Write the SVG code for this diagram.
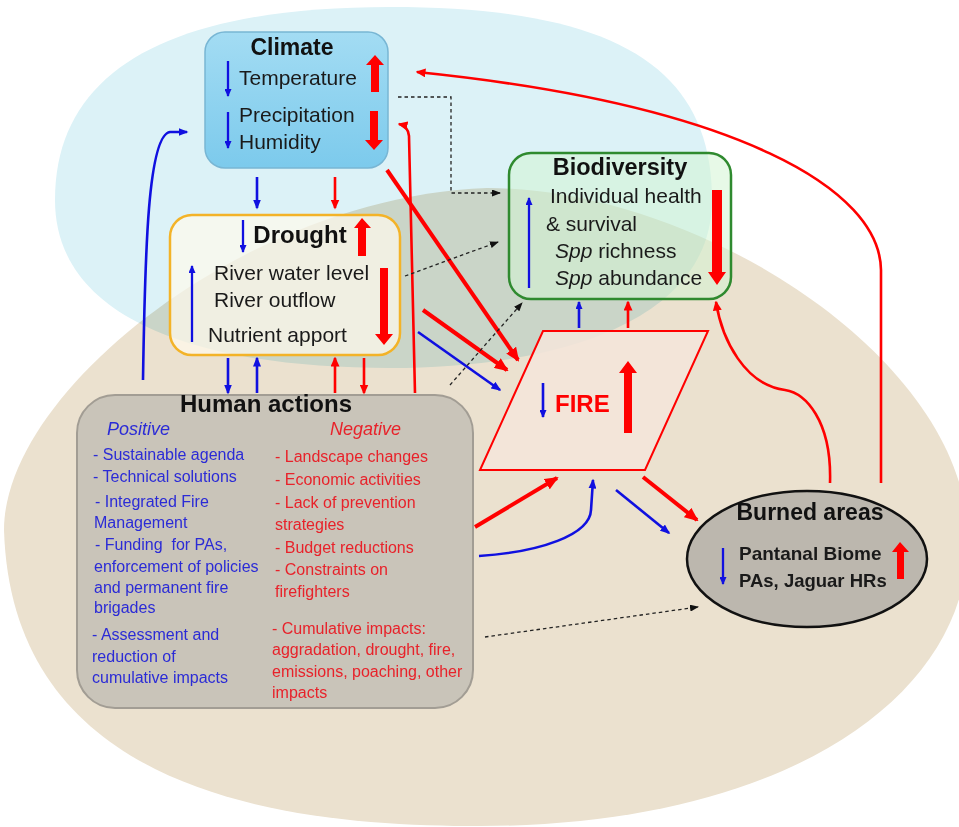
<svg xmlns="http://www.w3.org/2000/svg" width="959" height="827" viewBox="0 0 959 827">
<style>
text{font-family:"Liberation Sans",Arial,sans-serif;}
.t{font-size:21px;fill:#1a1a1a;}
.tb{font-weight:bold;fill:#111;text-anchor:middle;}
.pos{font-size:16px;fill:#2b2bd6;}
.neg{font-size:16px;fill:#e8222a;}
.thk{fill:#f00;}
.cr{fill:none;stroke:#f00;stroke-width:4;}
.cr2{fill:none;stroke:#f00;stroke-width:2.6;}
.cb{fill:none;stroke:#1010e0;stroke-width:2.6;}
.ib{fill:none;stroke:#1010e0;stroke-width:2.3;}
.cd{fill:none;stroke:#222;stroke-width:1.3;stroke-dasharray:3.5 3;}
</style>
<defs>
<linearGradient id="gClim" x1="0" y1="0" x2="0" y2="1">
<stop offset="0" stop-color="#a3dcf3"/><stop offset="1" stop-color="#7ccaec"/>
</linearGradient>
<marker id="hr" viewBox="0 0 14 12" refX="12" refY="6" markerWidth="14" markerHeight="12" orient="auto" markerUnits="userSpaceOnUse"><path d="M0,0 L14,6 L0,12 z" fill="#f00"/></marker>
<marker id="hr2" viewBox="0 0 10 9" refX="8.5" refY="4.5" markerWidth="10" markerHeight="9" orient="auto" markerUnits="userSpaceOnUse"><path d="M0,0 L10,4.5 L0,9 z" fill="#f00"/></marker>
<marker id="hb" viewBox="0 0 10 8" refX="8.5" refY="4" markerWidth="10" markerHeight="8" orient="auto" markerUnits="userSpaceOnUse"><path d="M0,0 L10,4 L0,8 z" fill="#1010e0"/></marker>
<marker id="hbs" viewBox="0 0 8 7" refX="7" refY="3.5" markerWidth="8" markerHeight="7" orient="auto" markerUnits="userSpaceOnUse"><path d="M0,0 L8,3.5 L0,7 z" fill="#1010e0"/></marker>
<marker id="hk" viewBox="0 0 9 7" refX="8" refY="3.5" markerWidth="9" markerHeight="7" orient="auto" markerUnits="userSpaceOnUse"><path d="M0,0 L9,3.5 L0,7 z" fill="#111"/></marker>
</defs>

<rect width="959" height="827" fill="#fff"/>
<g id="background">
<path d="M487,188 C700,188 968,360 968,540 C968,700 780,826 480,826 C300,826 12,800 4,530 C4,390 250,196 487,188 Z" fill="#ebe1cf"/>
<path d="M390,7 C620,7 712,70 712,200 C712,320 560,368 390,368 C200,368 55,320 55,200 C55,70 170,7 390,7 Z" fill="#dcf2f7" style="mix-blend-mode:multiply"/>
</g>

<g id="climate">
<rect x="205" y="32" width="183" height="136" rx="20" fill="url(#gClim)" stroke="#78b6d4" stroke-width="1.5"/>
<text class="tb" x="292" y="55" font-size="23">Climate</text>
<text class="t" x="239" y="85">Temperature</text>
<text class="t" x="239" y="122">Precipitation</text>
<text class="t" x="239" y="149">Humidity</text>
<path class="ib" d="M228,61 V96" marker-end="url(#hbs)"/>
<path class="ib" d="M228,112 V148" marker-end="url(#hbs)"/>
<polygon class="thk" points="371,92 371,65 366,65 375,55 384,65 379,65 379,92"/>
<polygon class="thk" points="370,111 370,140 365,140 374,150 383,140 378,140 378,111"/>
</g>

<g id="drought">
<rect x="170" y="215" width="230" height="140" rx="22" fill="#fffaeb" fill-opacity="0.72" stroke="#f3b328" stroke-width="2.5"/>
<text class="tb" x="300" y="243" font-size="24">Drought</text>
<text class="t" x="214" y="280" font-size="20.5">River water level</text>
<text class="t" x="214" y="307" font-size="20.5">River outflow</text>
<text class="t" x="208" y="342" font-size="20.5">Nutrient apport</text>
<path class="ib" d="M243,220 V252" marker-end="url(#hbs)"/>
<path class="ib" d="M192,342 V266" marker-end="url(#hbs)"/>
<polygon class="thk" points="358,256 358,228 354,228 362,218 371,228 366,228 366,256"/>
<polygon class="thk" points="380,268 380,334 375,334 384,345 393,334 388,334 388,268"/>
</g>

<g id="biodiversity">
<rect x="509" y="153" width="222" height="146" rx="22" fill="#d4f4d4" fill-opacity="0.55" stroke="#2f8a2f" stroke-width="2.5"/>
<text class="tb" x="620" y="175" font-size="23.5">Biodiversity</text>
<text class="t" x="550" y="203">Individual health</text>
<text class="t" x="546" y="231">&amp; survival</text>
<text class="t" x="555" y="258"><tspan font-style="italic">Spp</tspan> richness</text>
<text class="t" x="555" y="285"><tspan font-style="italic">Spp</tspan> abundance</text>
<path class="ib" d="M529,288 V198" marker-end="url(#hbs)"/>
<polygon class="thk" points="712,190 712,272 708,272 717,285 726,272 722,272 722,190"/>
</g>

<g id="fire">
<polygon points="543,331 708,331 645,470 480,470" fill="#f5e5da" fill-opacity="0.85" stroke="#f00" stroke-width="2"/>
<text x="555" y="412" font-size="24" font-weight="bold" fill="#f00">FIRE</text>
<path class="cb" d="M543,383 V417" marker-end="url(#hbs)"/>
<polygon class="thk" points="624,433 624,373 619,373 628,361 637,373 632,373 632,433"/>
</g>

<g id="human-actions">
<rect x="77" y="395" width="396" height="313" rx="38" fill="#c9c4b9" stroke="#a29d94" stroke-width="2"/>
<text class="tb" x="266" y="412" font-size="24">Human actions</text>
<text x="107" y="435" font-size="18" font-style="italic" fill="#2b2bd6">Positive</text>
<text x="330" y="435" font-size="18" font-style="italic" fill="#e8222a">Negative</text>
<text class="pos" x="93" y="460">- Sustainable agenda</text>
<text class="pos" x="93" y="482">- Technical solutions</text>
<text class="pos" x="95" y="507">- Integrated Fire</text>
<text class="pos" x="94" y="528">Management</text>
<text class="pos" x="95" y="550" xml:space="preserve">- Funding  for PAs,</text>
<text class="pos" x="94" y="572">enforcement of policies</text>
<text class="pos" x="94" y="593">and permanent fire</text>
<text class="pos" x="94" y="613">brigades</text>
<text class="pos" x="92" y="640">- Assessment and</text>
<text class="pos" x="92" y="662">reduction of</text>
<text class="pos" x="92" y="683">cumulative impacts</text>
<text class="neg" x="275" y="462">- Landscape changes</text>
<text class="neg" x="275" y="485">- Economic activities</text>
<text class="neg" x="275" y="508">- Lack of prevention</text>
<text class="neg" x="275" y="530">strategies</text>
<text class="neg" x="275" y="553">- Budget reductions</text>
<text class="neg" x="275" y="575">- Constraints on</text>
<text class="neg" x="275" y="597">firefighters</text>
<text class="neg" x="272" y="634">- Cumulative impacts:</text>
<text class="neg" x="272" y="655">aggradation, drought, fire,</text>
<text class="neg" x="272" y="677">emissions, poaching, other</text>
<text class="neg" x="272" y="698">impacts</text>
</g>

<g id="burned-areas">
<ellipse cx="807" cy="559" rx="120" ry="68" fill="#bcb7ae" stroke="#111" stroke-width="2.5"/>
<text class="tb" x="810" y="520" font-size="23">Burned areas</text>
<text x="739" y="560" font-size="19" font-weight="bold" fill="#1a1a1a">Pantanal Biome</text>
<text x="739" y="587" font-size="18.5" font-weight="bold" fill="#1a1a1a">PAs, Jaguar HRs</text>
<path class="ib" d="M723,548 V584" marker-end="url(#hbs)"/>
<polygon class="thk" points="897,579 897,552 892,552 900,542 909,552 904,552 904,579"/>
</g>

<g id="connectors">
<path class="cb" d="M257,177 V208" marker-end="url(#hb)"/>
<path class="cr2" d="M335,177 V208" marker-end="url(#hr2)"/>
<path class="cb" d="M228,358 V393" marker-end="url(#hb)"/>
<path class="cb" d="M257,393 V358" marker-end="url(#hb)"/>
<path class="cr2" d="M335,393 V358" marker-end="url(#hr2)"/>
<path class="cr2" d="M364,358 V393" marker-end="url(#hr2)"/>
<path class="cr2" d="M415,393 L409,136 Q408,126 399,124" marker-end="url(#hr2)"/>
<path class="cr" d="M387,170 L518,360" marker-end="url(#hr)"/>
<path class="cr" d="M423,310 L507,370" marker-end="url(#hr)"/>
<path class="cb" d="M418,332 L500,390" marker-end="url(#hb)"/>
<path class="cd" d="M450,385 L522,303" marker-end="url(#hk)"/>
<path class="cd" d="M405,276 L498,242" marker-end="url(#hk)"/>
<path class="cd" d="M398,97 H451 V193 H500" marker-end="url(#hk)"/>
<path class="cb" d="M143,380 C145,250 148,135 170,132 L187,132" marker-end="url(#hb)"/>
<path class="cb" d="M579,328 V302" marker-end="url(#hbs)"/>
<path class="cr2" d="M628,328 V302" marker-end="url(#hr2)"/>
<path class="cr" d="M475,527 L557,478" marker-end="url(#hr)"/>
<path class="cb" d="M479,556 C540,552 590,535 591,510 L593,480" marker-end="url(#hb)"/>
<path class="cb" d="M616,490 L669,533" marker-end="url(#hb)"/>
<path class="cr" d="M643,477 L697,520" marker-end="url(#hr)"/>
<path class="cd" d="M485,637 L698,607" marker-end="url(#hk)"/>
<path class="cr2" d="M830,483 C832,420 805,393 785,390 C745,385 722,340 716,302" marker-end="url(#hr2)"/>
<path class="cr2" d="M881,483 L881,270 C880,190 740,105 417,72" marker-end="url(#hr2)"/>
</g>
</svg>
